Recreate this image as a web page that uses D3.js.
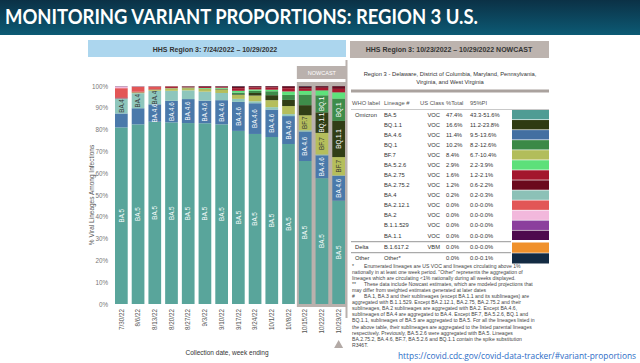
<!DOCTYPE html>
<meta charset="utf-8">
<script src="https://d3js.org/d3.v7.min.js"></script>
<style>
  body { margin: 0; background: #fff; }
  svg { display: block; font-family: "Liberation Sans", Arial, sans-serif; }
</style>
<body>
</body>
<script>
  // weeks (collection date, week ending)
  var dates = ["7/30/22","8/6/22","8/13/22","8/20/22","8/27/22","9/3/22","9/10/22",
               "9/17/22","9/24/22","10/1/22","10/8/22","10/15/22","10/22/22","10/29/22"];
  var nowcastFrom = 11; // index of first nowcast week

  // stacked series, bottom to top (% of infections)
  var ba5    = [81.0, 82.4, 83.6, 83.3, 83.0, 82.9, 82.4, 79.4, 78.0, 76.6, 73.4, 65.6, 57.7, 47.4];
  var ba46   = [6.4, 7.4, 8.0, 9.9, 11.0, 10.4, 11.1, 13.3, 14.1, 12.6, 12.8, 13.5, 10.5, 11.4];
  var ba4    = [6.9, 6.9, 6.2, 4.6, 4.0, 4.1, 3.3, 1.4, 0.9, 1.1, 0.9, 0.6, 0.4, 0.2];
  var bf7    = [0, 0.4, 0.6, 1.1, 1.0, 1.2, 1.6, 1.8, 2.6, 3.2, 3.7, 6.9, 9.9, 8.4];
  var bq11   = [0, 0, 0, 0, 0, 0.1, 0.2, 0.3, 1.2, 2.3, 2.8, 4.6, 9.4, 16.6];
  var bq1    = [0, 0, 0, 0, 0.1, 0.1, 0.2, 0.8, 1.0, 1.8, 2.3, 4.8, 7.8, 10.2];
  var ba526  = [0, 0, 0, 0.1, 0.2, 0.3, 0.4, 0.8, 0.6, 0.7, 1.6, 1.8, 2.3, 2.9];
  var ba275  = [0.5, 0.3, 0.2, 0.5, 0.3, 0.5, 0.5, 1.2, 1.0, 1.1, 1.5, 1.1, 1.2, 1.6];
  var ba2752 = [0, 0, 0, 0.1, 0.2, 0.3, 0.2, 0.8, 0.5, 0.5, 0.9, 0.9, 0.7, 1.2];
  var ba2121 = [4.2, 2.3, 1.2, 0.3, 0.1, 0, 0, 0, 0, 0, 0, 0, 0, 0];
  var ba2    = [0.9, 0.2, 0.1, 0, 0, 0, 0, 0, 0, 0, 0, 0, 0, 0];
  var b11529 = [0, 0, 0, 0, 0, 0, 0, 0, 0, 0, 0, 0, 0, 0];
  var ba11   = [0, 0, 0, 0, 0, 0, 0, 0, 0, 0, 0, 0, 0, 0];
  var delta  = [0, 0, 0, 0, 0, 0, 0, 0, 0, 0, 0, 0, 0, 0];
  var other  = [0.1, 0.1, 0.1, 0.1, 0.1, 0.1, 0.1, 0.2, 0.1, 0.1, 0.1, 0.2, 0.1, 0.1];

  var lineages = ["BA.5","BA.4.6","BA.4","BF.7","BQ.1.1","BQ.1","BA.5.2.6","BA.2.75",
                  "BA.2.75.2","BA.2.12.1","BA.2","B.1.1.529","BA.1.1","B.1.617.2","Other"];
  var seriesValues = [ba5, ba46, ba4, bf7, bq11, bq1, ba526, ba275, ba2752, ba2121, ba2, b11529, ba11, delta, other];
  var colors = ["#59a59b","#4a79aa","#8ec6bc","#b5be5c","#313e16","#3e8c4a","#5ee27b","#a7192f",
                "#6c0b1f","#e35656","#f2b7da","#8a409e","#4f0a50","#f0922d","#152d45"];
  var darkText = ["BA.4","BF.7","BA.5.2.6"];

  var yTicks = [0,10,20,30,40,50,60,70,80,90,100];

  // nowcast table
  var whoLabels  = ["Omicron","","","","","","","","","","","","","Delta","Other"];
  var tblLineage = ["BA.5","BQ.1.1","BA.4.6","BQ.1","BF.7","BA.5.2.6","BA.2.75","BA.2.75.2",
                    "BA.4","BA.2.12.1","BA.2","B.1.1.529","BA.1.1","B.1.617.2","Other*"];
  var usClass    = ["VOC","VOC","VOC","VOC","VOC","VOC","VOC","VOC","VOC","VOC","VOC","VOC","VOC","VBM",""];
  var pctTotal   = ["47.4%","16.6%","11.4%","10.2%","8.4%","2.9%","1.6%","1.2%","0.2%","0.0%","0.0%","0.0%","0.0%","0.0%","0.0%"];
  var pi95       = ["43.3-51.6%","11.2-23.8%","9.5-13.6%","8.2-12.6%","6.7-10.4%","2.2-3.9%","1.2-2.1%","0.6-2.2%",
                    "0.2-0.3%","0.0-0.0%","0.0-0.0%","0.0-0.0%","0.0-0.0%","0.0-0.0%","0.0-0.1%"];
  var tblColors  = ["#4f9c94","#2f3b12","#436fa1","#3b8947","#b2bd5b","#5de07a","#a3162d","#6b0a1d",
                    "#8cc1b7","#e25656","#f2b8dc","#8b3f9d","#4e0a4e","#f0912b","#132b43"];

  var footnotes = [
    ["*", "Enumerated lineages are US VOC and lineages circulating above 1%"],
    ["", "nationally in at least one week period. \"Other\" represents the aggregation of"],
    ["", "lineages which are circulating <1% nationally during all weeks displayed."],
    ["**", "These data include Nowcast estimates, which are modeled projections that"],
    ["", "may differ from weighted estimates generated at later dates"],
    ["#", "BA.1, BA.3 and their sublineages (except BA.1.1 and its sublineages) are"],
    ["", "aggregated with B.1.1.529. Except BA.2.12.1, BA.2.75, BA.2.75.2 and their"],
    ["", "sublineages, BA.2 sublineages are aggregated with BA.2. Except BA.4.6,"],
    ["", "sublineages of BA.4 are aggregated to BA.4. Except BF.7, BA.5.2.6, BQ.1 and"],
    ["", "BQ.1.1, sublineages of BA.5 are aggregated to BA.5. For all the lineages listed in"],
    ["", "the above table, their sublineages are aggregated to the listed parental lineages"],
    ["", "respectively. Previously, BA.5.2.6 were aggregated with BA.5. Lineages"],
    ["", "BA.2.75.2, BA.4.6, BF.7, BA.5.2.6 and BQ.1.1 contain the spike substitution"],
    ["", "R346T."]
  ];

  var W = 640, H = 363;
  var svg = d3.select("body").append("svg").attr("width", W).attr("height", H);

  // ---------- title bar ----------
  var grad = svg.append("defs").append("linearGradient")
      .attr("id", "tg").attr("x1", 0).attr("y1", 0).attr("x2", 0).attr("y2", 1);
  grad.append("stop").attr("offset", "0%").attr("stop-color", "#0b3146");
  grad.append("stop").attr("offset", "100%").attr("stop-color", "#0c5a74");
  svg.append("rect").attr("width", W).attr("height", 35).attr("fill", "url(#tg)");
  svg.append("text")
      .attr("x", 5).attr("y", 24)
      .attr("fill", "#fff")
      .style("font-family", "Lato, 'Open Sans', sans-serif")
      .style("font-weight", 700).style("font-size", "21px")
      .attr("textLength", 473).attr("lengthAdjust", "spacingAndGlyphs")
      .text("MONITORING VARIANT PROPORTIONS: REGION 3 U.S.");

  // ---------- panel headers ----------
  svg.append("rect").attr("x", 88).attr("y", 40).attr("width", 258).attr("height", 17).attr("fill", "#acd6ee");
  svg.append("text").attr("x", 215).attr("y", 51.5).attr("text-anchor", "middle")
      .style("font-size", "7px").style("font-weight", 700).attr("fill", "#333")
      .text("HHS Region 3: 7/24/2022 – 10/29/2022");
  svg.append("rect").attr("x", 350).attr("y", 41).attr("width", 199).attr("height", 17).attr("fill", "#bcb3ae");
  svg.append("text").attr("x", 449).attr("y", 52).attr("text-anchor", "middle")
      .style("font-size", "7px").style("font-weight", 700).attr("fill", "#333")
      .text("HHS Region 3: 10/23/2022 – 10/29/2022 NOWCAST");

  // ---------- stacked bar chart ----------
  var x = d3.scaleBand().domain(dates).range([113, 347]).paddingInner(0.24).paddingOuter(0.12);
  var y = d3.scaleLinear().domain([0, 100]).range([304, 86]);

  var gap = (x.step() - x.bandwidth()) / 2;
  var nx0 = x(dates[nowcastFrom]) - gap, nx1 = x(dates[dates.length - 1]) + x.bandwidth() + gap;
  svg.append("rect").attr("x", nx0).attr("y", 82).attr("width", nx1 - nx0).attr("height", 225).attr("fill", "#bab1ad");
  svg.append("rect").attr("x", nx0).attr("y", 66).attr("width", nx1 - nx0).attr("height", 13).attr("fill", "#bab1ad");
  svg.append("text").attr("x", (nx0 + nx1) / 2).attr("y", 74.5).attr("text-anchor", "middle")
      .style("font-size", "5.5px").attr("fill", "#fff").text("NOWCAST");
  svg.append("rect").attr("x", 345.5).attr("y", 60).attr("width", 2).attr("height", 258).attr("fill", "#bab1ad");

  var table = dates.map(function(d, i) {
    var row = { date: d };
    lineages.forEach(function(l, k) { row[l] = seriesValues[k][i]; });
    return row;
  });
  var stacked = d3.stack().keys(lineages)(table);

  var layers = svg.append("g").selectAll("g")
    .data(stacked).enter().append("g")
      .attr("fill", function(d, k) { return colors[k]; });

  layers.selectAll("rect")
    .data(function(d) { return d; })
    .enter().append("rect")
      .attr("x", function(d) { return x(d.data.date); })
      .attr("y", function(d) { return y(d[1]); })
      .attr("width", x.bandwidth())
      .attr("height", function(d) { return Math.max(0, y(d[0]) - y(d[1])); });

  // labels inside segments
  var labels = [];
  stacked.forEach(function(s) {
    s.forEach(function(d) {
      var h = y(d[0]) - y(d[1]);
      var len = s.key.length * 3.4;
      if (h >= len * 0.8) labels.push({ key: s.key, date: d.data.date, mid: (y(d[0]) + y(d[1])) / 2 });
    });
  });
  svg.append("g").selectAll("text")
    .data(labels).enter().append("text")
      .attr("transform", function(d) {
        return "translate(" + (x(d.date) + x.bandwidth() / 2 + 2.2) + "," + d.mid + ") rotate(-90)";
      })
      .attr("text-anchor", "middle")
      .style("font-size", "6.3px")
      .attr("fill", function(d) { return darkText.indexOf(d.key) >= 0 ? "#333" : "#fff"; })
      .text(function(d) { return d.key; });

  // y axis
  var yAxis = svg.append("g").attr("transform", "translate(111,0)")
      .call(d3.axisLeft(y).tickValues(yTicks).tickSize(0).tickFormat(function(d) { return d + "%"; }));
  yAxis.select(".domain").remove();
  yAxis.selectAll("text").style("font-size", "6.3px").attr("fill", "#777")
      .style("font-family", "'Liberation Sans', Arial, sans-serif");

  // x axis
  var xAxis = svg.append("g").attr("transform", "translate(0,307)")
      .call(d3.axisBottom(x).tickSize(0));
  xAxis.select(".domain").remove();
  xAxis.selectAll("text")
      .attr("transform", "rotate(-90)")
      .attr("x", -2).attr("y", 0).attr("dy", "0.35em")
      .attr("text-anchor", "end")
      .style("font-size", "6.3px").attr("fill", "#555")
      .style("font-family", "'Liberation Sans', Arial, sans-serif");

  svg.append("text").attr("x", 227).attr("y", 355).attr("text-anchor", "middle")
      .style("font-size", "6.5px").attr("fill", "#333").text("Collection date, week ending");
  svg.append("text").attr("transform", "translate(94,195) rotate(-90)").attr("text-anchor", "middle")
      .style("font-size", "6.5px").attr("fill", "#555").text("% Viral Lineages Among Infections");

  // nowcast marker
  var tx = x(dates[dates.length - 1]) + x.bandwidth() / 2;
  svg.append("path").attr("d", "M" + tx + ",340 l4.5,8 l-9,0 z").attr("fill", "#b3aaa6");

  // ---------- nowcast table ----------
  var tg = svg.append("g").style("font-size", "5.8px").attr("fill", "#333");
  tg.append("text").attr("x", 450).attr("y", 76).attr("text-anchor", "middle")
      .text("Region 3 - Delaware, District of Columbia, Maryland, Pennsylvania,");
  tg.append("text").attr("x", 450).attr("y", 84).attr("text-anchor", "middle")
      .text("Virginia, and West Virginia");
  svg.append("rect").attr("x", 351).attr("y", 89.5).attr("width", 198).attr("height", 3).attr("fill", "#aaa29e");

  var cols = [352, 384, 420, 446, 470];
  ["WHO label", "Lineage #", "US Class", "%Total", "95%PI"].forEach(function(h, i) {
    tg.append("text").attr("x", cols[i]).attr("y", 105).attr("fill", "#555").text(h);
  });
  svg.append("line").attr("x1", 351).attr("x2", 549).attr("y1", 109.5).attr("y2", 109.5)
      .attr("stroke", "#bbb").attr("stroke-width", 0.8);

  function rowTop(i) { return i < 13 ? 110 + i * 10.05 : 242.5 + (i - 13) * 10.8; }

  tblLineage.forEach(function(l, i) {
    var t = rowTop(i), base = t + 6.9;
    if (whoLabels[i]) tg.append("text").attr("x", 355).attr("y", base).text(whoLabels[i]);
    tg.append("text").attr("x", 384).attr("y", base).text(l);
    tg.append("text").attr("x", 440).attr("y", base).attr("text-anchor", "end").text(usClass[i]);
    tg.append("text").attr("x", 446).attr("y", base).text(pctTotal[i]);
    tg.append("text").attr("x", 470).attr("y", base).text(pi95[i]);
    svg.append("rect").attr("x", 512).attr("y", t).attr("width", 37)
        .attr("height", i < 13 ? 9.4 : 10.2).attr("fill", tblColors[i]);
  });
  [241.7, 252.6].forEach(function(ly) {
    svg.append("line").attr("x1", 351).attr("x2", 511).attr("y1", ly).attr("y2", ly)
        .attr("stroke", "#aaa").attr("stroke-width", 1.2);
  });

  // footnotes
  var fg = svg.append("g").style("font-size", "5.1px").attr("fill", "#444");
  footnotes.forEach(function(f, i) {
    var fy = 268 + i * 6.05;
    if (f[0]) fg.append("text").attr("x", 352).attr("y", fy).text(f[0]);
    fg.append("text").attr("x", f[0] ? 364 : 352).attr("y", fy).text(f[1]);
  });

  svg.append("text").attr("x", 398).attr("y", 359)
      .style("font-family", "'Open Sans', sans-serif").style("font-size", "8.5px")
      .attr("fill", "#2c6cc6").attr("textLength", 238).attr("lengthAdjust", "spacingAndGlyphs")
      .text("https://covid.cdc.gov/covid-data-tracker/#variant-proportions");
</script>
